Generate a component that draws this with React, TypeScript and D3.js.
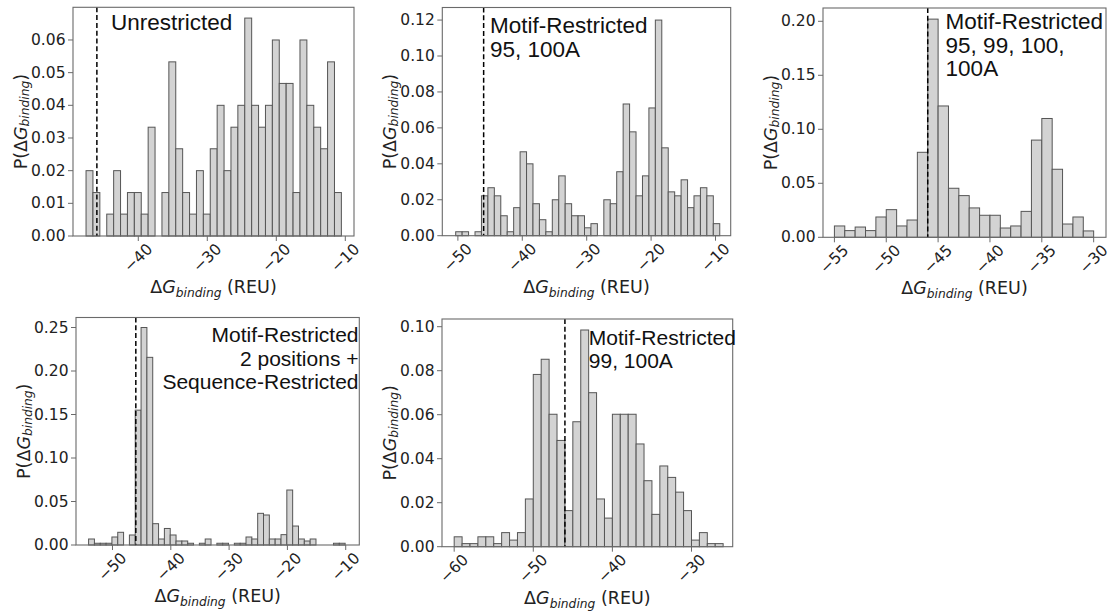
import React from 'react';
import * as d3 from 'd3';

// ---------------- DATA ----------------
// Panel 1: Unrestricted
const p1BinStart = -47.57;
const p1Values = [0.0200,0.0133,0,0.0067,0.0200,0.0067,0.0133,0.0133,0.0067,0.0333,0,0.0133,0.0533,0.0267,0.0133,0.0067,0.0200,0.0067,0.0267,0.0400,0.0200,0.0333,0.0400,0.0667,0.0400,0.0333,0.0400,0.0600,0.0467,0.0467,0.0133,0.0600,0.0400,0.0333,0.0267,0.0533,0.0133];
// Panel 2: Motif-Restricted 95, 100A
const p2BinStart = -50.34;
const p2Values = [0.0022,0.0022,0,0.0022,0.0222,0.0267,0.0222,0.0111,0.0022,0.0156,0.0467,0.0400,0.0178,0.0089,0.0022,0.0200,0.0333,0.0178,0.0111,0.0111,0.0044,0.0067,0,0.0200,0.0178,0.0356,0.0733,0.0578,0.0222,0.0333,0.0711,0.1200,0.0489,0.0244,0.0222,0.0311,0.0156,0.0222,0.0267,0.0222,0.0067];
// Panel 3: Motif-Restricted 95, 99, 100, 100A
const p3BinStart = -55;
const p3Values = [0.0105,0.0062,0.0095,0.0062,0.0188,0.0256,0.0105,0.0160,0.0787,0.2020,0.1216,0.0454,0.0386,0.0272,0.0204,0.0204,0.0086,0.0105,0.0240,0.0900,0.1100,0.0630,0.0123,0.0188,0.0059];
// Panel 4: Motif-Restricted 2 positions + Sequence-Restricted
const p4BinStart = -54.1;
const p4Values = [0.0069,0.0020,0.0020,0.0020,0.0092,0.0146,0,0.0115,0.1550,0.2500,0.2157,0.0245,0.0069,0.0190,0.0115,0.0046,0.0046,0.0020,0,0.0020,0.0069,0,0.0020,0.0020,0,0.0020,0.0020,0.0092,0.0069,0.0364,0.0345,0.0069,0.0069,0.0119,0.0632,0.0218,0.0069,0.0046,0.0069,0,0,0,0.0020,0.0020];
// Panel 5: Motif-Restricted 99, 100A
const p5BinStart = -60;
const p5Values = [0.0045,0.0014,0.0014,0.0045,0.0045,0.0014,0.0064,0.0030,0.0064,0.0217,0.0783,0.0852,0.0602,0.0483,0.0164,0.0568,0.0985,0.0700,0.0217,0.0130,0.0602,0.0602,0.0602,0.0467,0.0300,0.0147,0.0367,0.0315,0.0248,0.0164,0.0030,0.0064,0.0014,0.0014];

const binWidth = 1.0;
const referenceLine = -46.0;

const p1XTicks = [-40, -30, -20, -10];
const p2XTicks = [-50, -40, -30, -20, -10];
const p3XTicks = [-55, -50, -45, -40, -35, -30];
const p4XTicks = [-50, -40, -30, -20, -10];
const p5XTicks = [-60, -50, -40, -30];

const p1YTicks = [0, 0.01, 0.02, 0.03, 0.04, 0.05, 0.06];
const p2YTicks = [0, 0.02, 0.04, 0.06, 0.08, 0.10, 0.12];
const p3YTicks = [0, 0.05, 0.10, 0.15, 0.20];
const p4YTicks = [0, 0.05, 0.10, 0.15, 0.20, 0.25];
const p5YTicks = [0, 0.02, 0.04, 0.06, 0.08, 0.10];

const p1Label = ['Unrestricted'];
const p2Label = ['Motif-Restricted', '95, 100A'];
const p3Label = ['Motif-Restricted', '95, 99, 100,', '100A'];
const p4Label = ['Motif-Restricted', '2 positions +', 'Sequence-Restricted'];
const p5Label = ['Motif-Restricted', '99, 100A'];

// ---------------- LAYOUT ----------------
const panels = [
  { values: p1Values, start: p1BinStart, xTicks: p1XTicks, yTicks: p1YTicks, label: p1Label,
    left: 73, right: 354, top: 7.3, bottom: 236, xd: [-49.46, -8.74], ymax: 0.0700,
    lx: 111, ly: 30, anchor: 'start', fs: 22.5 },
  { values: p2Values, start: p2BinStart, xTicks: p2XTicks, yTicks: p2YTicks, label: p2Label,
    left: 442.3, right: 730.7, top: 7.5, bottom: 235.7, xd: [-52.42, -7.64], ymax: 0.1270,
    lx: 490, ly: 33.3, anchor: 'start', fs: 22.5 },
  { values: p3Values, start: p3BinStart, xTicks: p3XTicks, yTicks: p3YTicks, label: p3Label,
    left: 823, right: 1106, top: 8, bottom: 237.3, xd: [-56.1, -28.81], ymax: 0.2123,
    lx: 945.6, ly: 29.3, anchor: 'start', fs: 22.5 },
  { values: p4Values, start: p4BinStart, xTicks: p4XTicks, yTicks: p4YTicks, label: p4Label,
    left: 76, right: 359.3, top: 317.5, bottom: 545, xd: [-56.26, -7.67], ymax: 0.2615,
    lx: 358.5, ly: 342.3, anchor: 'end', fs: 21 },
  { values: p5Values, start: p5BinStart, xTicks: p5XTicks, yTicks: p5YTicks, label: p5Label,
    left: 442, right: 732.7, top: 319, bottom: 546.7, xd: [-61.54, -24.79], ymax: 0.1035,
    lx: 588.8, ly: 345, anchor: 'start', fs: 21 },
];

const TICK_FONT = 'DejaVu Sans';
const ANN_FONT = 'Liberation Sans, Arial, sans-serif';
const tickSize = 15.5;
const labelSize = 17.5;
const spine = '#6a6a6a';

const fmtMinus = (v: number) => (v < 0 ? '\u2212' + Math.abs(v) : String(v));

function Panel({ p }: { p: any }) {
  const x = d3.scaleLinear().domain(p.xd).range([p.left, p.right]);
  const y = d3.scaleLinear().domain([0, p.ymax]).range([p.bottom, p.top]);
  const cx = (p.left + p.right) / 2;
  const cy = (p.top + p.bottom) / 2;
  return (
    <g>
      {p.values.map((v: number, i: number) => {
        if (v <= 0) return null;
        const x0 = x(p.start + i * binWidth);
        const x1 = x(p.start + (i + 1) * binWidth);
        return (
          <rect key={i} x={x0} y={y(v)} width={x1 - x0} height={y(0) - y(v)}
            fill="#d3d3d3" stroke="#555" strokeWidth={1} />
        );
      })}
      <line x1={x(referenceLine)} x2={x(referenceLine)} y1={p.top} y2={p.bottom}
        stroke="#000" strokeWidth={1.5} strokeDasharray="5,2.8" />
      <rect x={p.left} y={p.top} width={p.right - p.left} height={p.bottom - p.top}
        fill="none" stroke={spine} strokeWidth={1.1} />
      {p.yTicks.map((t: number) => (
        <g key={'y' + t}>
          <line x1={p.left - 5} x2={p.left} y1={y(t)} y2={y(t)} stroke={spine} strokeWidth={1} />
          <text x={p.left - 7.5} y={y(t)} textAnchor="end" dominantBaseline="central"
            fontFamily={TICK_FONT} fontSize={tickSize} fill="#222">{d3.format('.2f')(t)}</text>
        </g>
      ))}
      {p.xTicks.map((t: number) => (
        <g key={'x' + t}>
          <line x1={x(t)} x2={x(t)} y1={p.bottom} y2={p.bottom + 5} stroke={spine} strokeWidth={1} />
          <text transform={`translate(${x(t)},${p.bottom + 22}) rotate(-45)`} textAnchor="middle"
            dominantBaseline="central" fontFamily={TICK_FONT} fontSize={tickSize} fill="#222">{fmtMinus(t)}</text>
        </g>
      ))}
      <text x={cx} y={p.bottom + 57} textAnchor="middle" fontFamily={TICK_FONT} fontSize={labelSize} fill="#222">
        <tspan>Δ</tspan><tspan fontStyle="italic">G</tspan>
        <tspan fontStyle="italic" fontSize={labelSize * 0.7} dy={4}>binding</tspan>
        <tspan dy={-4}>{' (REU)'}</tspan>
      </text>
      <text transform={`translate(${p.left - 52},${cy}) rotate(-90)`} textAnchor="middle"
        dominantBaseline="central" fontFamily={TICK_FONT} fontSize={labelSize} fill="#222">
        <tspan>P(Δ</tspan><tspan fontStyle="italic">G</tspan>
        <tspan fontStyle="italic" fontSize={labelSize * 0.7} dy={4}>binding</tspan>
        <tspan dy={-4}>)</tspan>
      </text>
      {p.label.map((s: string, i: number) => (
        <text key={'l' + i} x={p.lx} y={p.ly + i * 23.4} textAnchor={p.anchor}
          fontFamily={ANN_FONT} fontSize={p.fs} fill="#111">{s}</text>
      ))}
    </g>
  );
}

export default function App() {
  return (
    <svg width={1112} height={615} style={{ position: 'absolute', left: 0, top: 0, background: '#fff' }}>
      <rect x={0} y={0} width={1112} height={615} fill="#fff" />
      {panels.map((p, i) => <Panel key={i} p={p} />)}
    </svg>
  );
}
